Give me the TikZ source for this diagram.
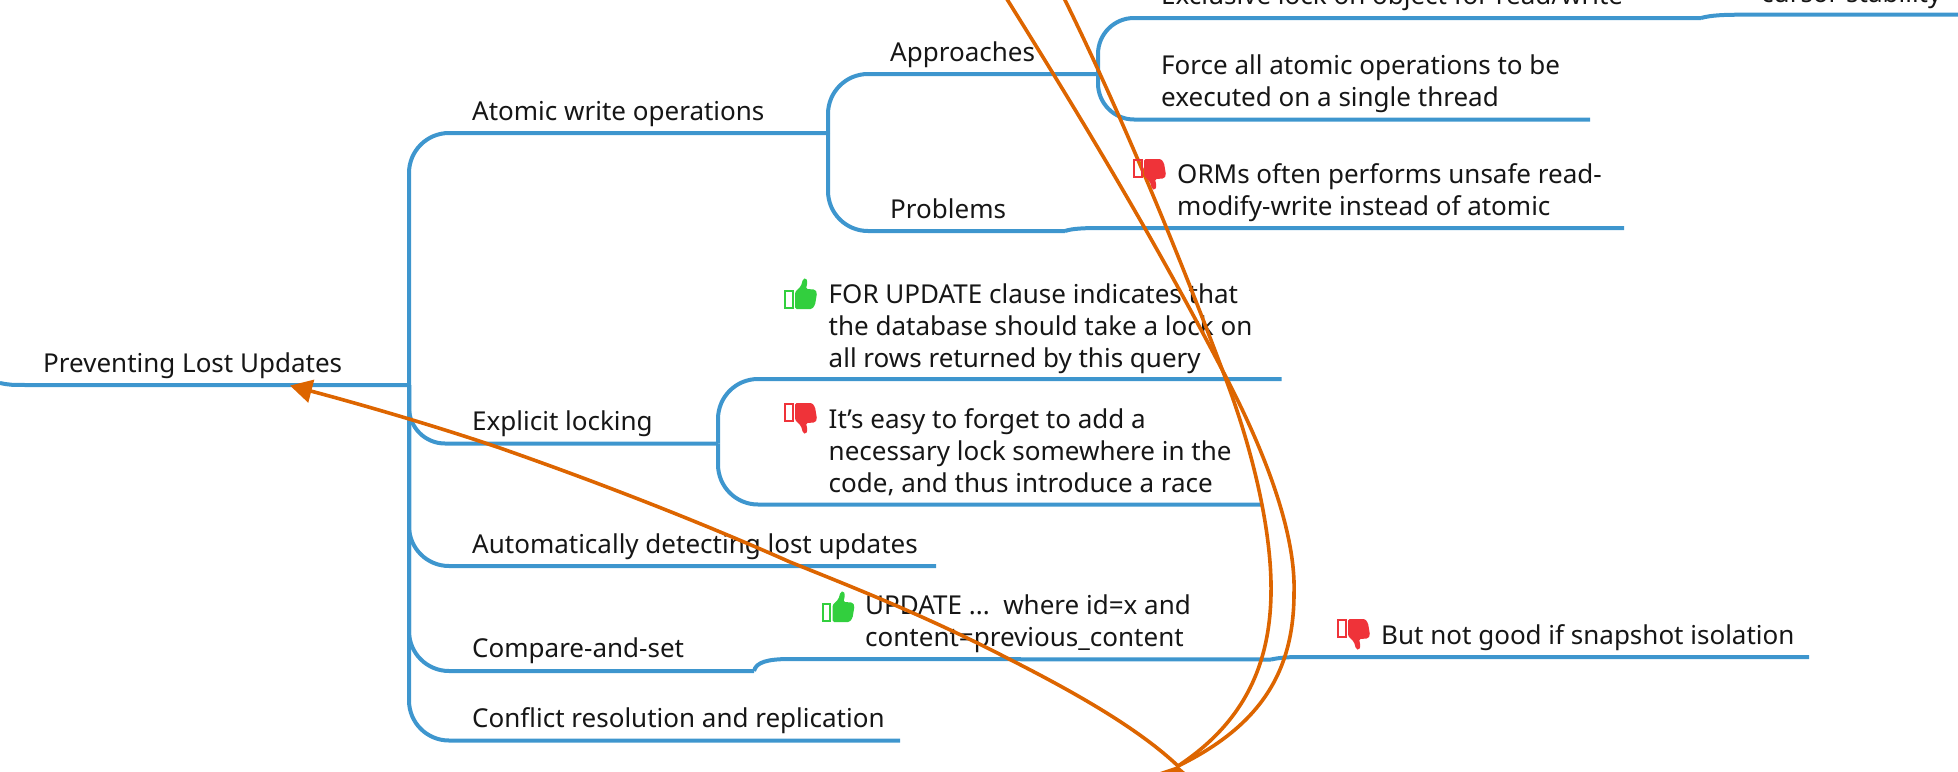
\documentclass[tikz,border=0pt]{standalone}
\usepackage{fontspec}
\setmainfont{Noto Sans}
\usetikzlibrary{arrows.meta}
\definecolor{mapblue}{HTML}{3E96CE}
\definecolor{maporange}{HTML}{DD6500}
\definecolor{mapink}{HTML}{161616}
\definecolor{upgreen}{HTML}{32CF3E}
\definecolor{downred}{HTML}{EF3339}
\tikzset{
  branch/.style={draw=mapblue,line width=4pt,line cap=butt},
  curved/.style={branch,rounded corners=40pt},
  relation/.style={draw=maporange,line width=3.6pt},
  label/.style={inner sep=0pt,anchor=south west,align=left,text depth=0pt,text=mapink,font=\fontsize{26}{32}\selectfont},
  thumbup/.pic={
    \draw[upgreen,line width=2pt] (1,13) rectangle (8.5,30);
    \fill[upgreen,rounded corners=1.5pt] (11,14) -- (17,8) -- (19,1) -- (22,0) -- (23.5,4) -- (22,11) -- (31,11.5) -- (33,15) -- (32,21) -- (31,27) -- (28,31) -- (11,31) -- cycle;
  },
  thumbdown/.pic={
    \draw[downred,line width=2pt] (1,1) rectangle (8.5,18);
    \fill[downred,rounded corners=1.5pt] (11,17) -- (17,23) -- (19,30) -- (22,31) -- (23.5,27) -- (22,20) -- (31,19.5) -- (33,16) -- (32,10) -- (31,4) -- (28,0) -- (11,0) -- cycle;
  }
}
\begin{document}
\begin{tikzpicture}[x=1pt,y=-1pt]
\useasboundingbox (0,0) rectangle (1958,771);
\clip (0,0) rectangle (1958,771);
% junctions
\coordinate (rootL) at (0,383);
\coordinate (rootA) at (33,385);
\coordinate (hub) at (409,385);
\coordinate (atomicEnd) at (828,133);
\coordinate (approachHub) at (1098,74);
\coordinate (exclEnd) at (1701,18);
\coordinate (cursorS) at (1745,14.7);
\coordinate (cursorEnd) at (1958,14.7);
\coordinate (forceEnd) at (1590,119.5);
\coordinate (probEnd) at (1065,231);
\coordinate (ormS) at (1100,228);
\coordinate (ormEnd) at (1624,228);
\coordinate (explEnd) at (718,443.5);
\coordinate (forEnd) at (1281.5,379);
\coordinate (easyEnd) at (1261,504.5);
\coordinate (autoEnd) at (936,566);
\coordinate (casEnd) at (754,671);
\coordinate (updS) at (790,659);
\coordinate (updEnd) at (1271,659.5);
\coordinate (snapS) at (1300,657);
\coordinate (snapEnd) at (1809,657);
\coordinate (conflEnd) at (900,740.5);
% blue branches
\draw[branch] (rootL) .. controls (10,385) .. (rootA) -- (hub);
\draw[curved] (hub) |- (atomicEnd);
\draw[curved,rounded corners=36pt] (hub) |- (explEnd);
\draw[curved] (hub) |- (autoEnd);
\draw[curved] (hub) |- (casEnd);
\draw[curved] (hub) |- (conflEnd);
\draw[curved] (atomicEnd) |- (approachHub);
\draw[curved] (atomicEnd) |- (probEnd);
\draw[curved,rounded corners=36pt] (approachHub) |- (exclEnd);
\draw[curved,rounded corners=36pt] (approachHub) |- (forceEnd);
\draw[branch] (exclEnd) .. controls (1712,15) and (1725,14.7) .. (cursorS) -- (cursorEnd);
\draw[branch] (probEnd) .. controls (1072,228.5) and (1085,228) .. (ormS) -- (ormEnd);
\draw[curved] (explEnd) |- (forEnd);
\draw[curved] (explEnd) |- (easyEnd);
\draw[branch] (casEnd) .. controls (756,662) and (768,659) .. (updS) -- (updEnd);
\draw[branch] (updEnd) .. controls (1280,657.5) and (1290,657) .. (snapS) -- (snapEnd);
% texts
\node[label] (root) at (43,373) {Preventing Lost Updates};
\node[label] (atomic) at (472,121) {Atomic write operations};
\node[label] (approaches) at (890,62) {Approaches};
\node[label] (problems) at (890,219) {Problems};
\node[label] (exclusive) at (1161,5) {Exclusive lock on object for read/write};
\node[label] (cursor) at (1761,3) {cursor stability};
\node[label] (force) at (1161,107) {Force all atomic operations to be\\executed on a single thread};
\node[label] (orm) at (1177,216) {ORMs often performs unsafe read-\\modify-write instead of atomic};
\node[label] (forupdate) at (828.5,368) {FOR UPDATE clause indicates that\\the database should take a lock on\\all rows returned by this query};
\node[label] (easy) at (828.5,493) {It’s easy to forget to add a\\necessary lock somewhere in the\\code, and thus introduce a race};
\node[label] (explicit) at (472,431) {Explicit locking};
\node[label] (auto) at (472,554) {Automatically detecting lost updates};
\node[label] (cas) at (472,658) {Compare-and-set};
\node[label] (conflict) at (472,728) {Conflict resolution and replication};
\node[label] (update) at (865,647) {UPDATE ...\ \ where id=x and\\content=previous\_content};
\node[label] (snapshot) at (1381,645) {But not good if snapshot isolation};
% relations
\coordinate (tipRoot) at (290,385.6);
\coordinate (meet) at (1178,766);
\coordinate (topB) at (1000,-12);
\coordinate (topC) at (1059,-12);
\coordinate (midA) at (1009,659);
\coordinate (midB) at (790,562);
\coordinate (midC) at (500,448);
\coordinate (crossB) at (1228,381);
\coordinate (crossC) at (1228,385);
\coordinate (bulgeB) at (1294,593);
\coordinate (bulgeC) at (1271,593);
\draw[relation,-{Triangle[length=22pt,width=23pt]}] (meet) .. controls (1140,730) and (1080,695) .. (midA) .. controls (930,618) and (860,590) .. (midB) .. controls (700,522) and (600,483) .. (midC) .. controls (430,424) and (345,400) .. (tipRoot);
\draw[relation] (topB) .. controls (1070,100) and (1150,230) .. (crossB) .. controls (1262,447) and (1296,530) .. (bulgeB) .. controls (1294,670) and (1262,725) .. (meet);
\draw[relation] (topC) .. controls (1110,90) and (1170,230) .. (crossC) .. controls (1252,450) and (1272,530) .. (bulgeC) .. controls (1270,670) and (1240,725) .. (meet);
\fill[maporange] (meet) -- (1157,773) -- (1186,773) -- cycle;
% icons
\pic (icon1) at (784,278) {thumbup};
\pic (icon2) at (784,403) {thumbdown};
\pic (icon3) at (1133,159) {thumbdown};
\pic (icon4) at (821.5,591) {thumbup};
\pic (icon5) at (1337,619) {thumbdown};
\end{tikzpicture}
\end{document}
